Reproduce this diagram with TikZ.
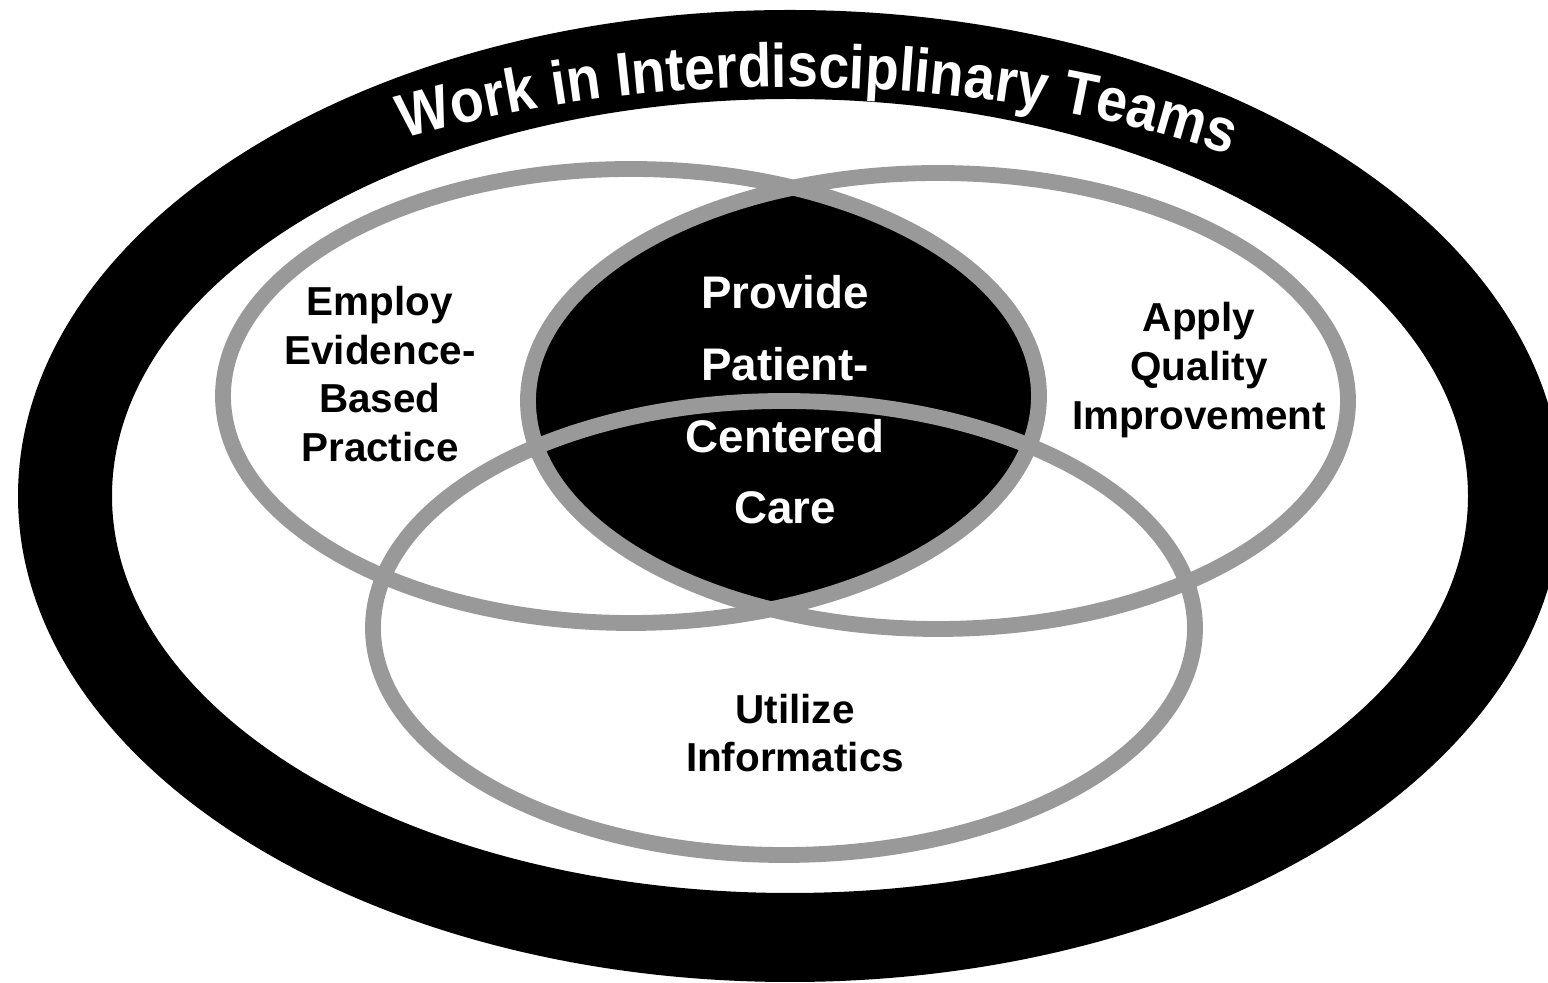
\documentclass[tikz,border=0pt]{standalone}
\usepackage{fontspec}
\setmainfont{Liberation Sans}
\newfontfamily\teamfont[FakeStretch=0.9]{Liberation Sans}
\usepackage{tikz}
\usetikzlibrary{decorations.text}

\definecolor{venngray}{RGB}{153,153,153}

\tikzset{
	venn/.style={draw=venngray, line width=4.5pt},
	lbl/.style={align=center, text=black, font=\fontsize{11.5}{13.9}\selectfont\bfseries},
	core/.style={align=center, text=white, font=\fontsize{13}{20.4}\selectfont\bfseries}
}

\begin{document}
\begin{tikzpicture}[x=0.01cm,y=0.01cm]
	\useasboundingbox (0,0) rectangle (1548,-983);
	\fill[white] (0,0) rectangle (1548,-983);
	\coordinate (ctr) at (790,-496);
	\coordinate (L) at (631,-396);
	\coordinate (R) at (938,-401);
	\coordinate (B) at (784,-628);
	% outer ring
	\fill[black, even odd rule] (ctr) ellipse [x radius=772, y radius=486]
		(ctr) ellipse [x radius=678, y radius=397];
	\path[decorate, decoration={text along path, text align=center, text color=white,
		text={|\teamfont\bfseries\fontsize{17.5}{20}\selectfont|Work in Interdisciplinary Teams}}]
		(ctr) ++(147:795 and 409) arc [start angle=147, end angle=27, x radius=795, y radius=409];
	% lens
	\begin{scope}
		\clip (L) ellipse [x radius=408, y radius=227];
		\fill[black] (R) ellipse [x radius=410, y radius=228];
	\end{scope}
	\draw[venn] (L) ellipse [x radius=408, y radius=227];
	\draw[venn] (R) ellipse [x radius=410, y radius=228];
	\draw[venn] (B) ellipse [x radius=411, y radius=227];
	\path (380,-374) node (ebp) [lbl] {Employ\\Evidence-\\Based\\Practice}
		  (1199,-370) node (aqi) [lbl] {Apply\\Quality\\Improvement}
		  (795,-733) node (ui) [lbl] {Utilize\\Informatics}
		  (785,-400) node (pcc) [core] {Provide\\Patient-\\Centered\\Care};
\end{tikzpicture}
\end{document}
